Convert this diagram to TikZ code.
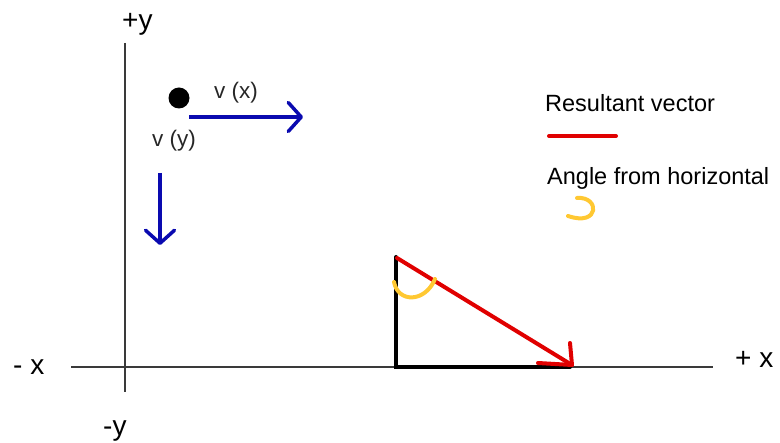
\documentclass[tikz,border=0pt]{standalone}
\usepackage{fontspec}
\setmainfont{Liberation Sans}
\usetikzlibrary{arrows.meta}
\definecolor{vblue}{HTML}{0A0AB0}
\definecolor{rred}{HTML}{E00000}
\definecolor{agold}{HTML}{FFC832}
\definecolor{axisgray}{HTML}{3A3A3A}
\begin{document}
\begin{tikzpicture}[x=1pt,y=-1pt,
  axis/.style={draw=axisgray,line width=1.5pt},
  axlabel/.style={anchor=base west,inner sep=0pt,font=\fontsize{28}{32}\selectfont},
  vlabel/.style={anchor=base west,inner sep=0pt,font=\fontsize{22.5}{26}\selectfont,text=black!85},
  leglabel/.style={anchor=base west,inner sep=0pt,font=\fontsize{23.5}{28}\selectfont},
  varrow/.style={draw=vblue,line width=3.5pt,-{Straight Barb[length=13pt,width=29pt,round]}},
  tri/.style={draw=black,line width=4pt},
  resline/.style={draw=rred,line width=4pt,line cap=round},
  angarc/.style={draw=agold,line width=4pt,line cap=round},
  dotnode/.style={circle,fill=black,minimum size=21pt,inner sep=0pt}]
\useasboundingbox (0,0) rectangle (780,443);
% axes
\coordinate (xl) at (71,367);
\coordinate (xr) at (713,367);
\coordinate (yt) at (125,43);
\coordinate (yb) at (125,392);
\draw[axis] (xl) -- (xr);
\draw[axis] (yt) -- (yb);
\node[axlabel] (py) at (122,29.5) {+y};
\node[axlabel] (my) at (103,436) {-y};
\node[axlabel] (mx) at (13,375) {- x};
\node[axlabel] (px) at (735,368) {+ x};
% particle and components
\node[dotnode] (dot) at (179,98) {};
\coordinate (vxs) at (189,117);
\coordinate (vxe) at (303,117);
\draw[varrow] (vxs) -- (vxe);
\node[vlabel] (vx) at (214,99) {v (x)};
\node[vlabel] (vy) at (152,147) {v (y)};
\coordinate (vys) at (160,173);
\coordinate (vye) at (160,245);
\draw[varrow] (vys) -- (vye);
% triangle
\coordinate (ta) at (396,257);
\coordinate (tb) at (396,367);
\coordinate (tc) at (570,367);
\draw[tri,line cap=round] (ta) -- (tb) -- (tc);
\coordinate (rs) at (397,258);
\coordinate (rt) at (572,365);
\coordinate (rh1) at (570,343);
\coordinate (rh2) at (538,363);
\draw[resline] (rs) -- (rt);
\draw[resline,line join=round] (rh1) -- (rt) -- (rh2);
\coordinate (a1) at (394,282);
\coordinate (a2) at (435,279);
\draw[angarc] (a1) .. controls (398,303) and (425,303) .. (a2);
% legend
\node[leglabel] (lr) at (545,112) {Resultant vector};
\coordinate (l1) at (549,136);
\coordinate (l2) at (616,136);
\draw[resline] (l1) -- (l2);
\node[leglabel] (la) at (547,185) {Angle from horizontal};
\coordinate (g1) at (577,198);
\coordinate (g2) at (568,216);
\draw[angarc] (g1) .. controls (600,196) and (600,227) .. (g2);
\end{tikzpicture}
\end{document}
